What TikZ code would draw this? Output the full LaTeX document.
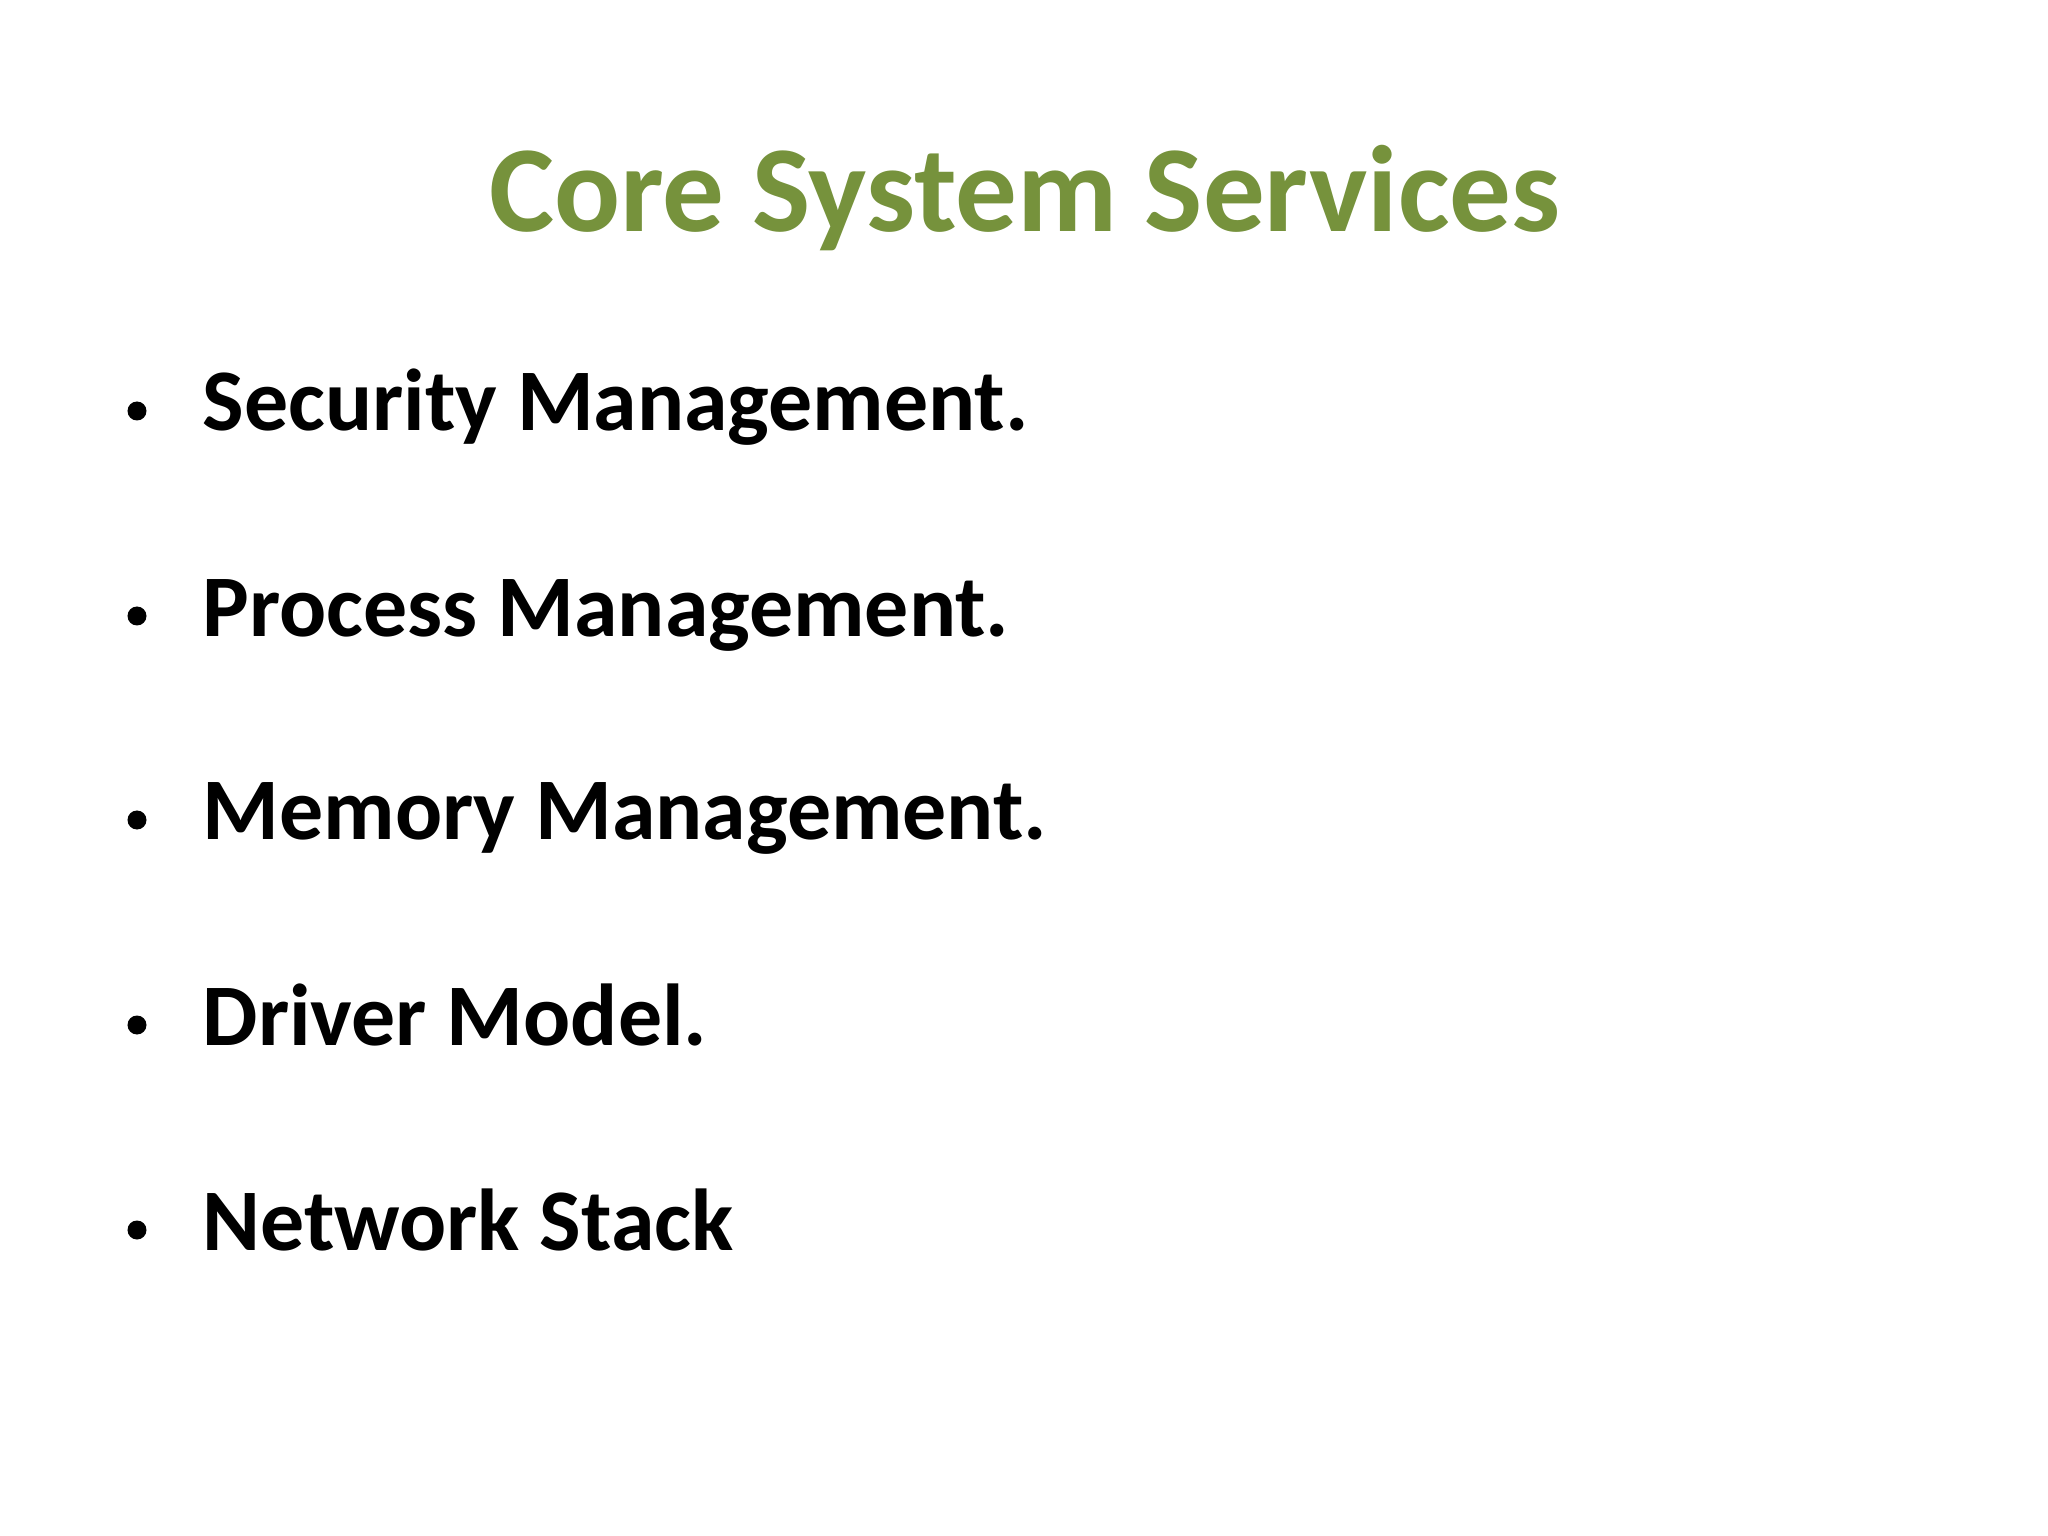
\documentclass[tikz,border=0pt]{standalone}
\usepackage{fontspec}
\setmainfont{Carlito}
\definecolor{titlegreen}{RGB}{118,146,60}
\begin{document}
\begin{tikzpicture}[
  itemtext/.style={anchor=base west, inner sep=0pt, font=\bfseries\fontsize{25}{30}\selectfont},
  itemdot/.style={circle, fill=black, inner sep=0pt, minimum size=0.19cm}
]
% page
\useasboundingbox[fill=white] (0,0) rectangle (20.48,-15.36);

% Title
\node[anchor=base, inner sep=0pt, text=titlegreen, font=\bfseries\fontsize{35}{42}\selectfont] (title) at (10.25,-2.32) {Core System Services};

% Bullet list
\foreach \y/\name/\txt in {-4.31/sec/Security Management.,-6.36/proc/Process Management.,-8.40/mem/Memory Management.,-10.45/drv/Driver Model.,-12.50/net/Network Stack}
{
  \node[itemtext] (\name) at (2.02,\y) {\txt};
  \node[itemdot] (\name dot) at (1.37,\y+0.2) {};
}

\end{tikzpicture}
\end{document}
